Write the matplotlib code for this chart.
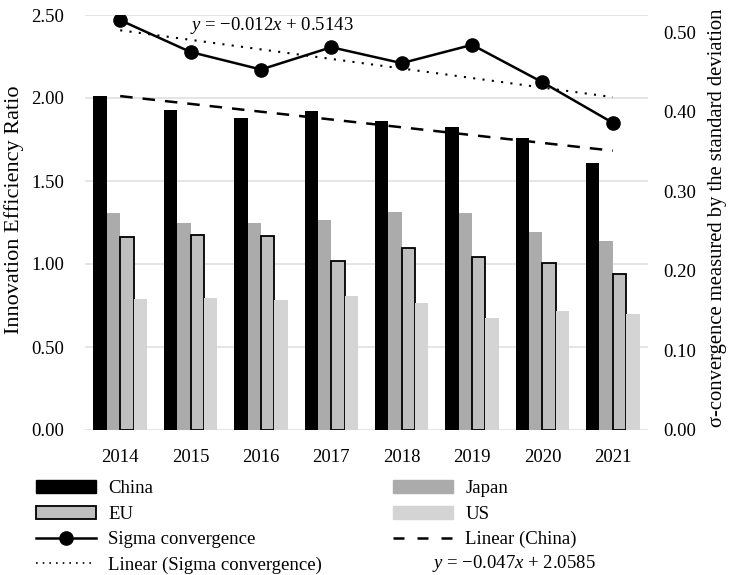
import matplotlib
matplotlib.use('Agg')
import matplotlib.pyplot as plt
from matplotlib.patches import Patch
from matplotlib.lines import Line2D
import numpy as np

plt.rcParams['font.family'] = ['Liberation Serif', 'DejaVu Serif']
plt.rcParams['mathtext.fontset'] = 'custom'
plt.rcParams['mathtext.it'] = 'Liberation Serif:italic'
plt.rcParams['mathtext.rm'] = 'Liberation Serif'

# Data
years = ['2014', '2015', '2016', '2017', '2018', '2019', '2020', '2021']
china = [2.01, 1.93, 1.88, 1.92, 1.86, 1.825, 1.76, 1.61]
japan = [1.31, 1.25, 1.247, 1.265, 1.315, 1.305, 1.195, 1.14]
eu = [1.16, 1.176, 1.17, 1.02, 1.095, 1.044, 1.008, 0.94]
us = [0.79, 0.795, 0.785, 0.81, 0.767, 0.673, 0.717, 0.70]
sigma = [0.515, 0.475, 0.453, 0.481, 0.461, 0.484, 0.437, 0.386]

# trendline coefficients (x = 1..8)
china_slope, china_icpt = -0.047, 2.0585
sigma_slope, sigma_icpt = -0.012, 0.5143

C_CHINA = '#000000'
C_JAPAN = '#ababab'
C_EU = '#bfbfbf'
C_US = '#d4d4d4'
C_GRID = '#e0e0e0'
FS = 13.5

fig = plt.figure(figsize=(7.39, 5.75), dpi=100)
ax = fig.add_axes([85 / 739, 1 - 430 / 575, 563 / 739, 415 / 575])
ax2 = ax.twinx()

x = np.arange(len(years))
w = 0.19
ax.bar(x - 1.5 * w, china, w, color=C_CHINA, zorder=2)
ax.bar(x - 0.5 * w, japan, w, color=C_JAPAN, zorder=2)
ax.bar(x + 0.5 * w, eu, w, color=C_EU, edgecolor='black', linewidth=1.3, zorder=2)
ax.bar(x + 1.5 * w, us, w, color=C_US, zorder=2)

xt = np.arange(1, len(years) + 1)
ax.plot(x, china_slope * xt + china_icpt, color='black', lw=1.8,
        dashes=(5, 4), zorder=3)

ax.set_ylim(0, 2.5)
ax.set_xlim(-0.5, len(years) - 0.5)
ax.set_yticks([0, 0.5, 1.0, 1.5, 2.0, 2.5])
ax.set_yticklabels([f'{v:.2f}' for v in [0, 0.5, 1.0, 1.5, 2.0, 2.5]])
ax.set_xticks(x)
ax.set_xticklabels(years)
ax.yaxis.grid(True, color=C_GRID, lw=1.2, zorder=0)
ax.set_axisbelow(True)
ax.tick_params(axis='both', length=0, labelsize=FS)
ax.tick_params(axis='x', pad=14)
ax.tick_params(axis='y', pad=15)
for s in ax.spines.values():
    s.set_visible(False)
ax.set_ylabel('Innovation Efficiency Ratio', fontsize=16, va='center')
ax.yaxis.set_label_coords(-0.126, 0.53)

ax2.plot(x, sigma, color='black', lw=1.8, marker='o', markersize=9.5, zorder=4)
ax2.plot(x, sigma_slope * xt + sigma_icpt, color='black', lw=1.5,
         linestyle=(0, (1, 3.5)), zorder=3)
ax2.set_ylim(0, 0.5215)
ax2.set_yticks([0, 0.1, 0.2, 0.3, 0.4, 0.5])
ax2.set_yticklabels([f'{v:.2f}' for v in [0, 0.1, 0.2, 0.3, 0.4, 0.5]])
ax2.tick_params(axis='y', length=0, labelsize=FS, pad=11)
for s in ax2.spines.values():
    s.set_visible(False)
ax2.set_ylabel('\u03c3-convergence measured by the standard deviation',
               fontsize=14.9, va='center')
ax2.yaxis.set_label_coords(1.124, 0.511)

fig.text(190 / 739, 1 - 26 / 575, '$y$ = \u22120.012$x$ + 0.5143',
         fontsize=FS, va='center', ha='left')

left_handles = [
    Patch(facecolor=C_CHINA, edgecolor=C_CHINA),
    Patch(facecolor=C_EU, edgecolor='black', linewidth=1.3),
    Line2D([], [], color='black', lw=1.8, marker='o', markersize=9.5),
    Line2D([], [], color='black', lw=1.2, linestyle=(0, (1, 3))),
]
left_labels = ['China', 'EU', 'Sigma convergence', 'Linear (Sigma convergence)']
right_handles = [
    Patch(facecolor=C_JAPAN, edgecolor=C_JAPAN),
    Patch(facecolor=C_US, edgecolor=C_US),
    Line2D([], [], color='black', lw=1.8, dashes=(4.4, 5.2)),
]
right_labels = ['Japan', 'US', 'Linear (China)']
legend_kw = dict(loc='upper left', frameon=False, fontsize=FS, handlelength=3.2,
                 handleheight=0.7, labelspacing=0.45, handletextpad=0.65,
                 borderaxespad=0, borderpad=0)
fig.legend(left_handles, left_labels, bbox_to_anchor=(36 / 739, 1 - 480 / 575), **legend_kw)
fig.legend(right_handles, right_labels, bbox_to_anchor=(393 / 739, 1 - 480 / 575), **legend_kw)

fig.text(432 / 739, 1 - 563 / 575, '$y$ = \u22120.047$x$ + 2.0585',
         fontsize=FS, va='center', ha='left')

fig.savefig('out.png', dpi=100)
